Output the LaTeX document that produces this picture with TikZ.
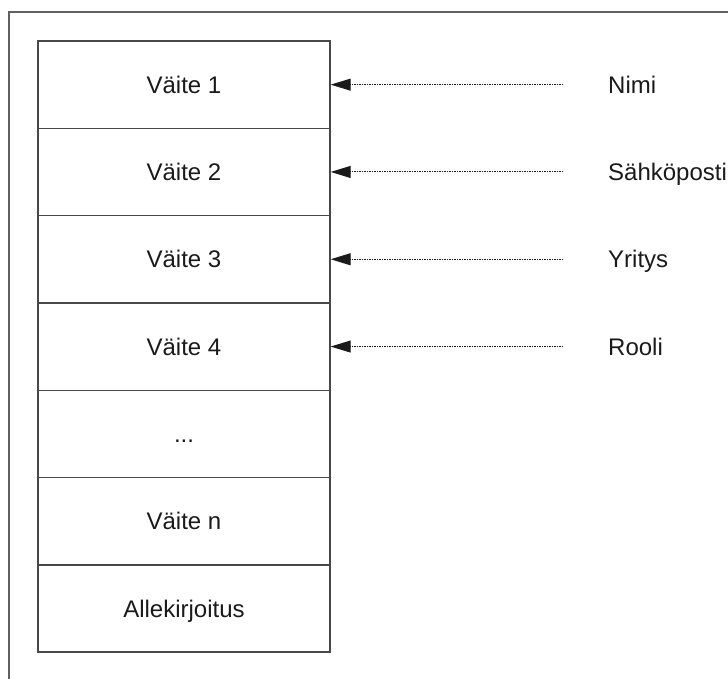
\documentclass[tikz,border=0pt]{standalone}
\usepackage{fontspec}
\setmainfont{Liberation Sans}
\usetikzlibrary{arrows.meta}
\definecolor{frame}{HTML}{606060}
\definecolor{boxline}{HTML}{484848}
\definecolor{ink}{HTML}{1A1A1A}
\begin{document}
\begin{tikzpicture}[x=1pt,y=-1pt,
  font=\fontsize{24}{28}\selectfont,
  rowbox/.style={draw=boxline,line width=1.4pt,minimum width=292pt,minimum height=87.3pt,
    inner sep=0pt,text=ink,text height=17.2pt,text depth=0pt},
  fieldlabel/.style={anchor=west,inner xsep=45pt,inner ysep=0pt,text=ink,
    text height=17.2pt,text depth=0pt},
  pointer/.style={-{Triangle[length=20pt,width=12pt]},color=ink,line width=1pt,
    dash pattern=on 1.2pt off 1.3pt}]
  \useasboundingbox (0,0) rectangle (728,678);
  % outer frame (only top and left edges fall inside the page)
  \draw[frame,line width=1.5pt] (9,690) -- (9,12) -- (740,12);
  % stacked record rows
  \node[rowbox] (r1) at (184,84.65) {Väite 1};
  \node[rowbox] (r2) at (184,171.95) {Väite 2};
  \node[rowbox] (r3) at (184,259.25) {Väite 3};
  \node[rowbox] (r4) at (184,346.55) {Väite 4};
  \node[rowbox] (r5) at (184,433.85) {...};
  \node[rowbox] (r6) at (184,521.15) {Väite n};
  \node[rowbox] (r7) at (184,608.45) {Allekirjoitus};
  % field labels
  \node[fieldlabel] (l1) at (563,84.65) {Nimi};
  \node[fieldlabel] (l2) at (563,171.95) {Sähköposti};
  \node[fieldlabel] (l3) at (563,259.25) {Yritys};
  \node[fieldlabel] (l4) at (563,346.55) {Rooli};
  % pointers from fields to rows
  \draw[pointer] (l1.west) -- (r1.east);
  \draw[pointer] (l2.west) -- (r2.east);
  \draw[pointer] (l3.west) -- (r3.east);
  \draw[pointer] (l4.west) -- (r4.east);
\end{tikzpicture}
\end{document}
